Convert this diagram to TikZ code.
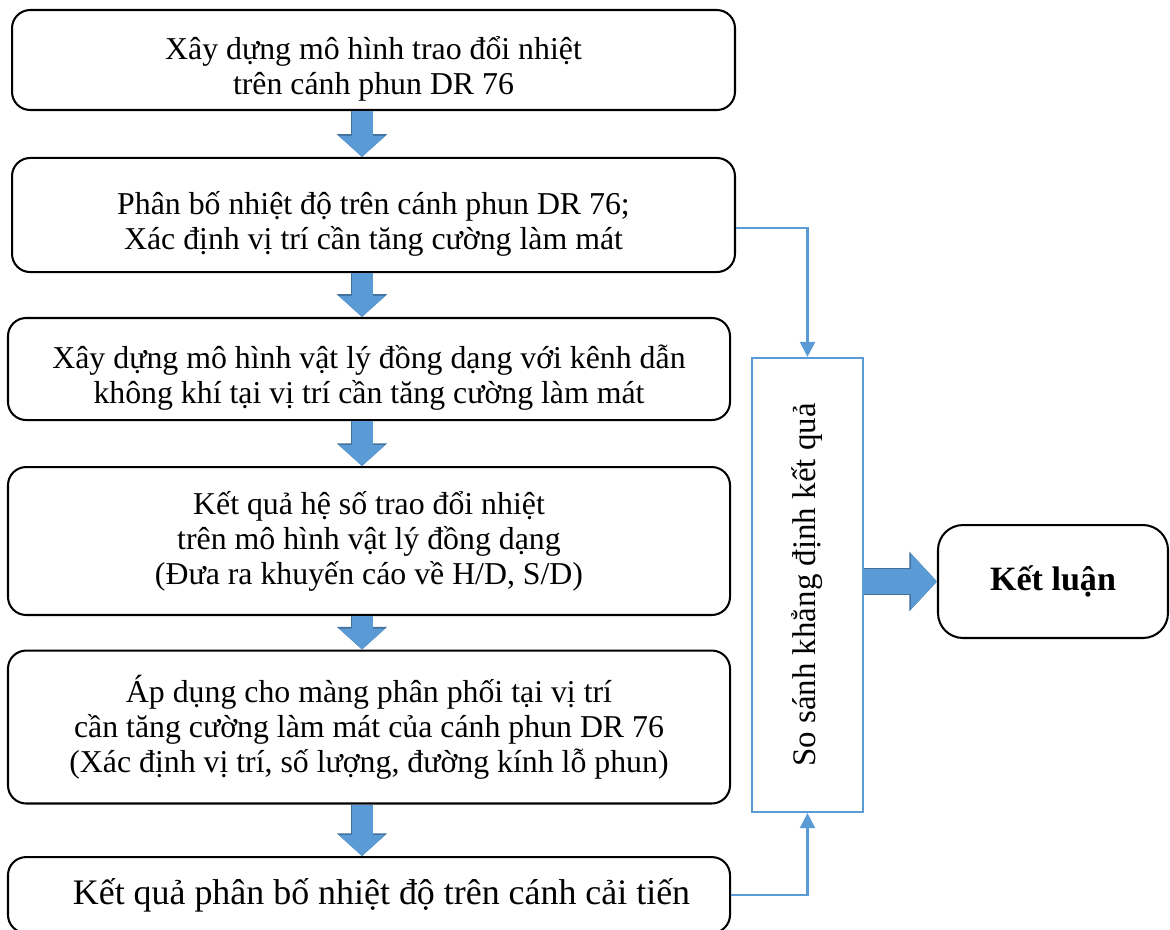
\documentclass[tikz,border=0pt]{standalone}
\usepackage{fontspec}
\setmainfont{Liberation Serif}
\usepackage{tikz}
\usetikzlibrary{shapes}
\usetikzlibrary{arrows.meta}
\usetikzlibrary{positioning}
\usetikzlibrary{calc}
\definecolor{bleu}{HTML}{5B9BD5}
\definecolor{bleufonce}{HTML}{41719C}
\newcommand{\hautligne}{\rule{0pt}{18pt}}
\tikzstyle{etape}=[
        rectangle,
        draw=black,
        line width=0.9pt,
        rounded corners=8pt,
        align=center,
        inner sep=0pt,
        font=\fontsize{14}{15.4}\selectfont
]
\tikzstyle{cadre}=[rectangle,draw=bleu,line width=0.9pt,inner sep=0pt,
font=\fontsize{14.5}{16}\selectfont]
\tikzstyle{conclu}=[rectangle,draw=black,line width=0.9pt,rounded corners=11pt,
font=\fontsize{15}{18}\selectfont\bfseries]
\tikzstyle{grosse}=[bleu,line width=9.24pt,-{Triangle[width=19.8pt,length=9.24pt]},
preaction={draw=bleufonce,line width=10.1pt,-{Triangle[width=21.6pt,length=10pt]}}]
\tikzstyle{grosseh}=[bleu,line width=11pt,-{Triangle[width=23.8pt,length=11.4pt]},
preaction={draw=bleufonce,line width=11.9pt,-{Triangle[width=25.6pt,length=12.2pt]}}]
\tikzstyle{lien}=[bleu,line width=0.9pt,-{Triangle[width=6.6pt,length=6.6pt]}]

\begin{document}
\begin{tikzpicture}[x=0.44pt,y=-0.44pt]
\useasboundingbox (0,0) rectangle (1170,929);
\node[etape,minimum width=318.1pt,minimum height=44pt] (b1) at (373.5,60)
  {\hautligne Xây dựng mô hình trao đổi nhiệt\\ trên cánh phun DR 76};
\node[etape,minimum width=318.1pt,minimum height=50.2pt] (b2) at (373.5,215)
  {\hautligne Phân bố nhiệt độ trên cánh phun DR 76;\\ Xác định vị trí cần tăng cường làm mát};
\node[etape,minimum width=317.7pt,minimum height=44.9pt] (b3) at (369,369)
  {\hautligne Xây dựng mô hình vật lý đồng dạng với kênh dẫn\\ không khí tại vị trí cần tăng cường làm mát};
\node[etape,minimum width=317.7pt,minimum height=65.1pt] (b4) at (369,541)
  {Kết quả hệ số trao đổi nhiệt\\ trên mô hình vật lý đồng dạng\\ (Đưa ra khuyến cáo về H/D, S/D)};
\node[etape,minimum width=317.7pt,minimum height=67.3pt] (b5) at (369,727)
  {Áp dụng cho màng phân phối tại vị trí\\ cần tăng cường làm mát của cánh phun DR 76\\ (Xác định vị trí, số lượng, đường kính lỗ phun)};
\node[etape,minimum width=317.7pt,minimum height=33.4pt,font=\fontsize{15.8}{18}\selectfont] (b6) at (369,895)
  {\hspace*{11pt}Kết quả phân bố nhiệt độ trên cánh cải tiến};
\node[cadre,rotate=90,minimum width=199.8pt,minimum height=48.8pt] (cmp) at (807.5,585)
  {So sánh khẳng định kết quả};
\node[conclu,minimum width=101.2pt,minimum height=49.7pt] (kl) at (1053,581.5) {Kết luận};
\coordinate (axe) at (362,0);
%fleches
\draw[grosse] (b1.south -| axe) -- (b2.north -| axe);
\draw[grosse] (b2.south -| axe) -- (b3.north -| axe);
\draw[grosse] (b3.south -| axe) -- (b4.north -| axe);
\draw[grosse] (b4.south -| axe) -- (b5.north -| axe);
\draw[grosse] (b5.south -| axe) -- (b6.north -| axe);
\draw[grosseh] (cmp.south |- kl.west) -- (kl.west);
\draw[lien] ([yshift=-5.7pt]b2.east) -| (cmp.east);
\draw[lien] (b6.east) -| (cmp.west);
\end{tikzpicture}
\end{document}
